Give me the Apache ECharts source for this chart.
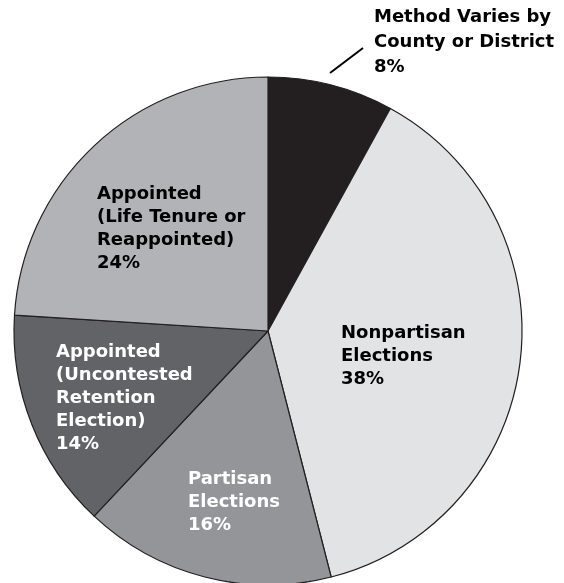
<!DOCTYPE html>
<html><head><meta charset="utf-8">
<script src="https://cdn.jsdelivr.net/npm/echarts@6/dist/echarts.min.js"></script>
<style>html,body{margin:0;padding:0;background:#fff}#c{width:564px;height:583px}</style>
</head><body><div id="c"></div>
<script>
const categories = ['Method Varies by\nCounty or District', 'Nonpartisan\nElections', 'Partisan\nElections', 'Appointed\n(Uncontested\nRetention\nElection)', 'Appointed\n(Life Tenure or\nReappointed)'];
const values = [8, 38, 16, 14, 24];
const colors = ['#231f20', '#e2e3e4', '#939598', '#626366', '#b1b3b6'];
const textColors = ['#000', '#000', '#fff', '#fff', '#000'];
const labelPos = [[374, 5], [341, 322], [188, 468], [56, 341], [97, 183]];
const labelLineHeights = [25, 23, 23, 23, 23];

const chart = echarts.init(document.getElementById('c'), null, {renderer: 'canvas'});
chart.setOption({
  animation: false,
  series: [{
    type: 'pie',
    center: [268, 331],
    radius: [0, 254],
    startAngle: 90,
    clockwise: true,
    silent: true,
    data: categories.map((n, i) => ({
      name: n, value: values[i],
      itemStyle: {color: colors[i]},
      label: {color: textColors[i], lineHeight: labelLineHeights[i]}
    })),
    itemStyle: {borderColor: '#231f20', borderWidth: 1.2},
    label: {
      show: true, position: 'inside',
      formatter: p => p.name + '\n' + p.value + '%',
      fontFamily: 'DejaVu Sans', fontWeight: 'bold', fontSize: 18, lineHeight: 23,
      align: 'left'
    },
    labelLine: {show: false},
    labelLayout: p => ({x: labelPos[p.dataIndex][0], y: labelPos[p.dataIndex][1], align: 'left', verticalAlign: 'top'})
  }],
  graphic: [{type: 'line', shape: {x1: 330, y1: 73, x2: 363, y2: 48}, style: {stroke: '#000', lineWidth: 2}}]
});
</script></body></html>
